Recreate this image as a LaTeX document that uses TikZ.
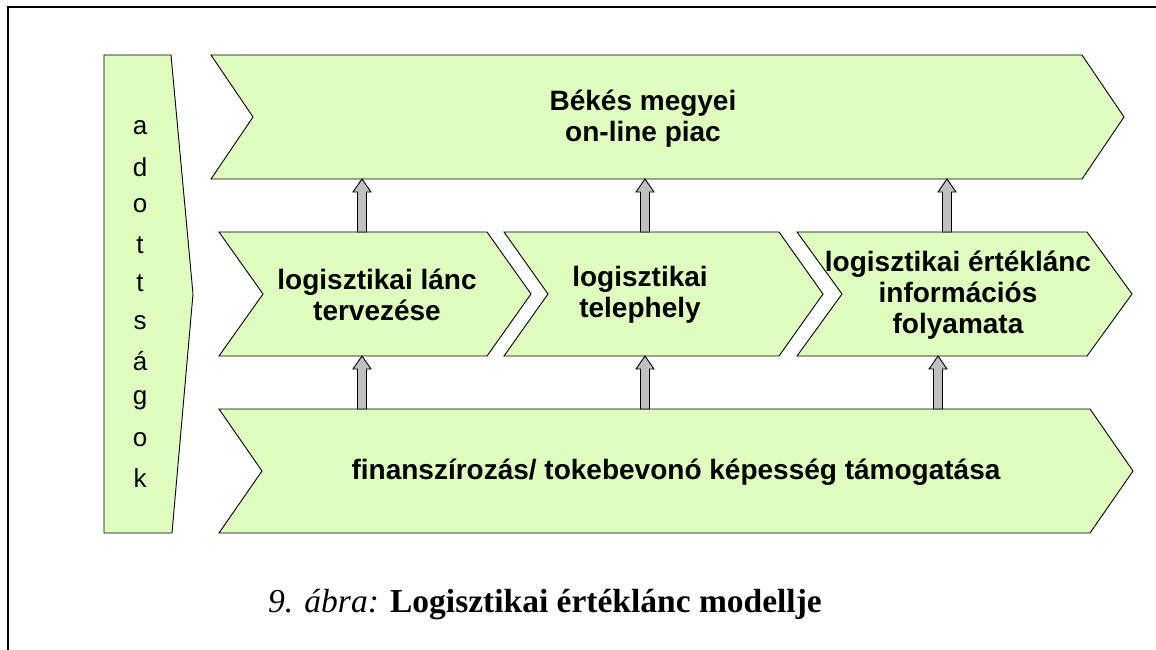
\documentclass[tikz,border=0pt]{standalone}
\usepackage{fontspec}
\setmainfont{Liberation Serif}
\newfontfamily\arialf{Liberation Sans}
\usetikzlibrary{calc}
\definecolor{lgreen}{HTML}{E0FDC0}
\definecolor{agray}{HTML}{C0C0C0}
\tikzset{
  shapebox/.style={fill=lgreen,draw=black,line width=0.9pt,line join=miter},
  btext/.style={font=\arialf\bfseries\fontsize{28}{31}\selectfont,align=center,inner sep=0pt},
  letter/.style={font=\arialf\fontsize{26}{30}\selectfont,inner sep=0pt},
  blockarrow/.style={fill=agray,draw=black,line width=0.9pt,line join=miter},
  frame/.style={line width=2pt}
}
% chevron: x1, x2, ytop, ybottom, depth
\newcommand\mychev[5]{%
  \filldraw[shapebox] (#1,#3) -- (#2,#3) -- ({#2+#5},{(#3+#4)/2}) -- (#2,#4) -- (#1,#4) -- ({#1+#5},{(#3+#4)/2}) -- cycle;}
% block arrow from coordinate #1 (tail) up to coordinate #2 (tip)
\newcommand\myarrow[2]{%
  \draw[blockarrow] let \p1=(#1), \p2=(#2) in
    (\x1-4.5pt,\y1) -- (\x1-4.5pt,\y2-13pt) -- (\x1-9pt,\y2-13pt) -- (\x2,\y2)
    -- (\x1+9pt,\y2-13pt) -- (\x1+4.5pt,\y2-13pt) -- (\x1+4.5pt,\y1) -- cycle;}
\begin{document}
\begin{tikzpicture}[x=1pt,y=-1pt]
\useasboundingbox (0,0) rectangle (1156,650);
% frame (top and left edges)
\draw[frame] (7.5,650) -- (7.5,7.5) -- (1156,7.5);
% left shape
\filldraw[shapebox] (104,55) -- (171,55) -- (193,294) -- (172,533) -- (104,533) -- cycle;
\foreach \l [count=\i from 0] in {a,d,o,t,t,s,á,g,o,k}
  \node[letter] (L\i) at (140,{128+38.9*\i}) {\l};
% chevrons
\mychev{211}{1082}{55}{179}{42}
\mychev{219}{487}{232}{356}{44}
\mychev{504}{779}{232}{356}{44}
\mychev{797}{1087}{232}{356}{45}
\mychev{219}{1090}{409}{533}{43}
% texts
\node[btext] (top) at (643,119) {Békés megyei\\on-line piac};
\node[btext] (m1) at (377,295) {logisztikai lánc\\tervezése};
\node[btext] (m2) at (640,295) {logisztikai\\telephely};
\node[btext] (m3) at (958,295) {logisztikai értéklánc\\információs\\folyamata};
\node[btext] (bot) at (676,472) {finanszírozás/ tokebevonó képesség támogatása};
% arrow endpoints
\coordinate (a1s) at (362,232); \coordinate (a1e) at (362,179);
\coordinate (a2s) at (645,232); \coordinate (a2e) at (645,179);
\coordinate (a3s) at (947,232); \coordinate (a3e) at (947,179);
\coordinate (b1s) at (362,409); \coordinate (b1e) at (362,356);
\coordinate (b2s) at (645,409); \coordinate (b2e) at (645,356);
\coordinate (b3s) at (938,409); \coordinate (b3e) at (938,356);
\myarrow{a1s}{a1e}\myarrow{a2s}{a2e}\myarrow{a3s}{a3e}
\myarrow{b1s}{b1e}\myarrow{b2s}{b2e}\myarrow{b3s}{b3e}
% caption
\node[font=\fontsize{33.5}{38}\selectfont,inner sep=0pt] (cap) at (545,605) {\textit{9. ábra:} \textbf{Logisztikai értéklánc modellje}};
\end{tikzpicture}
\end{document}
